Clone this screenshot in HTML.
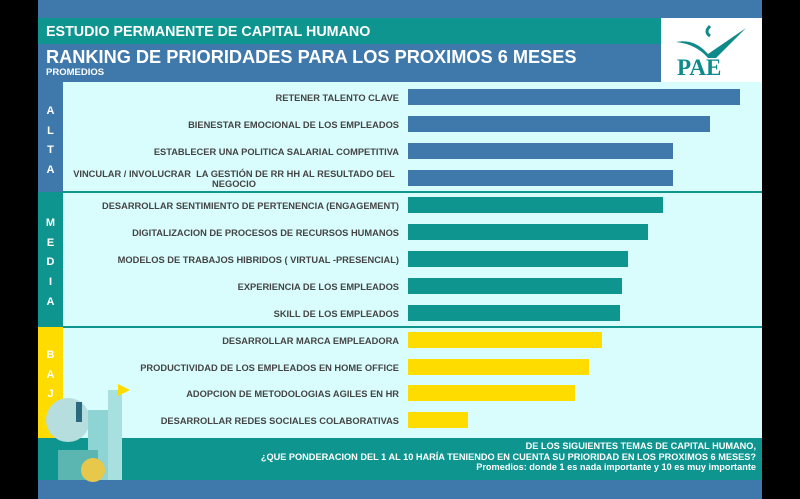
<!DOCTYPE html>
<html><head><meta charset="utf-8"><style>
*{margin:0;padding:0;box-sizing:border-box}
body{width:800px;height:499px;background:#000;position:relative;overflow:hidden;font-family:"Liberation Sans",sans-serif;font-weight:bold}
div{position:absolute}
.l{right:401px;text-align:right;font-size:9.3px;color:#444;line-height:10px;width:360px;white-space:nowrap}
.b{left:408px;height:16px}
.s{color:#fff;font-size:11px;text-align:center;width:25px;left:38px;line-height:19.7px}
</style></head><body>
<div style="left:38px;top:0;width:724px;height:18px;background:#3f78aa"></div>
<div style="left:38px;top:18px;width:623px;height:26px;background:#0e9590"></div>
<div style="left:46px;top:24px;color:#fff;font-size:14.3px">ESTUDIO PERMANENTE DE CAPITAL HUMANO</div>
<div style="left:46px;top:49px;color:#fff;font-size:18.2px"></div>
<div style="left:38px;top:44px;width:623px;height:38px;background:#3f78aa"></div>
<div style="left:46px;top:47px;color:#fff;font-size:18.2px">RANKING DE PRIORIDADES PARA LOS PROXIMOS 6 MESES</div>
<div style="left:46px;top:67px;color:#fff;font-size:9.5px">PROMEDIOS</div>
<div style="left:661px;top:18px;width:101px;height:64px;background:#fff"></div>
<svg style="position:absolute;left:676px;top:24px" width="72" height="34"><path d="M0 18 Q18 14 32 30 L70 4 L40 34 L32 34 Q20 20 0 18Z" fill="#0e8a8a"/><path d="M34 2 Q28 8 34 12" stroke="#0e8a8a" stroke-width="3" fill="none"/></svg>
<div style="left:677px;top:55px;color:#0e8a8a;font-family:'Liberation Serif',serif;font-size:23px;font-weight:bold">PAE</div>
<div style="left:38px;top:82px;width:724px;height:356px;background:#d9fdfd"></div>
<div style="left:38px;top:82px;width:25px;height:110px;background:#3f78aa"></div>
<div style="left:38px;top:192px;width:25px;height:135px;background:#0e9590"></div>
<div style="left:38px;top:327px;width:25px;height:111px;background:#ffdc00"></div>
<div style="left:63px;top:191px;width:699px;height:2px;background:#0e9590"></div>
<div style="left:63px;top:326px;width:699px;height:2px;background:#0e9590"></div>
<div class="s" style="top:102px">A<br>L<br>T<br>A</div>
<div class="s" style="top:214px">M<br>E<br>D<br>I<br>A</div>
<div class="s" style="top:346px">B<br>A<br>J<br>A</div>

<div class="l" style="top:93px">RETENER TALENTO CLAVE</div><div class="b" style="top:89px;width:332px;background:#3f78aa"></div>
<div class="l" style="top:120px">BIENESTAR EMOCIONAL DE LOS EMPLEADOS</div><div class="b" style="top:116px;width:302px;background:#3f78aa"></div>
<div class="l" style="top:147px">ESTABLECER UNA POLITICA SALARIAL COMPETITIVA</div><div class="b" style="top:143px;width:265px;background:#3f78aa"></div>
<div class="l" style="top:169px;text-align:center;width:330px">VINCULAR / INVOLUCRAR &nbsp;LA GESTIÓN DE RR HH AL RESULTADO DEL<br>NEGOCIO</div><div class="b" style="top:170px;width:265px;background:#3f78aa"></div>
<div class="l" style="top:201px">DESARROLLAR SENTIMIENTO DE PERTENENCIA (ENGAGEMENT)</div><div class="b" style="top:197px;width:255px;background:#0e9590"></div>
<div class="l" style="top:228px">DIGITALIZACION DE PROCESOS DE RECURSOS HUMANOS</div><div class="b" style="top:224px;width:240px;background:#0e9590"></div>
<div class="l" style="top:255px">MODELOS DE TRABAJOS HIBRIDOS ( VIRTUAL -PRESENCIAL)</div><div class="b" style="top:251px;width:220px;background:#0e9590"></div>
<div class="l" style="top:282px">EXPERIENCIA DE LOS EMPLEADOS</div><div class="b" style="top:278px;width:214px;background:#0e9590"></div>
<div class="l" style="top:309px">SKILL DE LOS EMPLEADOS</div><div class="b" style="top:305px;width:212px;background:#0e9590"></div>
<div class="l" style="top:336px">DESARROLLAR MARCA EMPLEADORA</div><div class="b" style="top:332px;width:194px;background:#ffdc00"></div>
<div class="l" style="top:363px">PRODUCTIVIDAD DE LOS EMPLEADOS EN HOME OFFICE</div><div class="b" style="top:359px;width:181px;background:#ffdc00"></div>
<div class="l" style="top:389px">ADOPCION DE METODOLOGIAS AGILES EN HR</div><div class="b" style="top:385px;width:167px;background:#ffdc00"></div>
<div class="l" style="top:416px">DESARROLLAR REDES SOCIALES COLABORATIVAS</div><div class="b" style="top:412px;width:60px;background:#ffdc00"></div>

<div style="left:38px;top:438px;width:724px;height:42px;background:#0e9590"></div>
<div style="left:38px;top:480px;width:724px;height:19px;background:#3f78aa"></div>
<div style="right:44px;top:441px;color:#fff;font-size:9.2px;text-align:right;line-height:10.5px;width:600px">DE LOS SIGUIENTES TEMAS DE CAPITAL HUMANO,<br>¿QUE PONDERACION DEL 1 AL 10 HARÍA TENIENDO EN CUENTA SU PRIORIDAD EN LOS PROXIMOS 6 MESES?<br>Promedios: donde 1 es nada importante y 10 es muy importante</div>
<svg style="position:absolute;left:38px;top:380px" width="100" height="102">
<circle cx="30" cy="40" r="22" fill="#b6dede"/>
<rect x="50" y="30" width="30" height="70" fill="#8fd4d4"/>
<rect x="70" y="10" width="14" height="90" fill="#a8e0e0"/>
<polygon points="80,4 92,10 80,16" fill="#ffdc00"/>
<rect x="20" y="70" width="40" height="30" fill="#5bb5b0"/>
<circle cx="55" cy="90" r="12" fill="#e8c84a"/>
<rect x="38" y="22" width="6" height="20" fill="#2a6a80"/>
</svg>
</body></html>
